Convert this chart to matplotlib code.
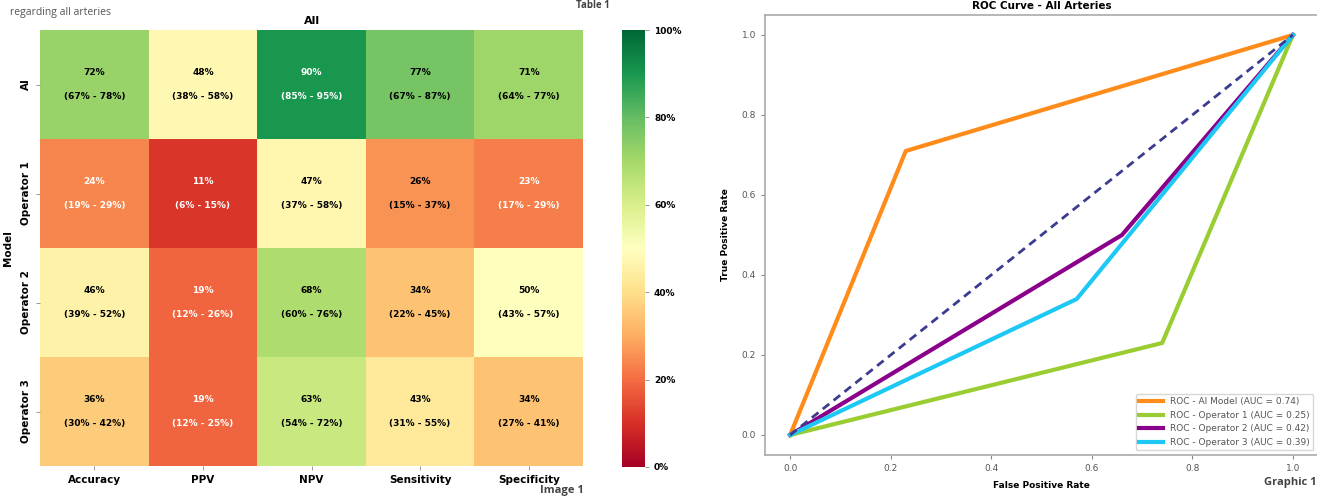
import numpy as np
import matplotlib
matplotlib.use("Agg")
import matplotlib.pyplot as plt

# heatmap data (percent)
models = ['AI', 'Operator 1', 'Operator 2', 'Operator 3']
metrics = ['Accuracy', 'PPV', 'NPV', 'Sensitivity', 'Specificity']
point = [[72, 48, 90, 77, 71],
         [24, 11, 47, 26, 23],
         [46, 19, 68, 34, 50],
         [36, 19, 63, 43, 34]]
ci_low = [[67, 38, 85, 67, 64],
          [19, 6, 37, 15, 17],
          [39, 12, 60, 22, 43],
          [30, 12, 54, 31, 27]]
ci_high = [[78, 58, 95, 87, 77],
           [29, 15, 58, 37, 29],
           [52, 26, 76, 45, 57],
           [42, 25, 72, 55, 41]]

# ROC data
roc_labels = ['ROC - AI Model (AUC = 0.74)', 'ROC - Operator 1 (AUC = 0.25)',
              'ROC - Operator 2 (AUC = 0.42)', 'ROC - Operator 3 (AUC = 0.39)']
roc_fpr = [[0, 0.23, 1], [0, 0.74, 1], [0, 0.66, 1], [0, 0.57, 1]]
roc_tpr = [[0, 0.71, 1], [0, 0.23, 1], [0, 0.50, 1], [0, 0.34, 1]]
roc_colors = ['#ff8c1a', '#9acd32', '#8b008b', '#1ec8f5']

W, H = 1317, 497
fig = plt.figure(figsize=(W / 100, H / 100), dpi=100)

def box(x0, y0, x1, y1):
    return [x0 / W, 1 - y1 / H, (x1 - x0) / W, (y1 - y0) / H]

# ---- heatmap ----
ax = fig.add_axes(box(40, 30, 583, 466))
cax = fig.add_axes(box(622, 30, 645, 467))
data = np.array(point) / 100.0
im = ax.imshow(data, cmap='RdYlGn', vmin=0, vmax=1, aspect='auto',
               interpolation='nearest')
for i in range(len(models)):
    for j in range(len(metrics)):
        v = point[i][j]
        c = 'white' if (v < 25 or v > 85) else 'black'
        ax.text(j, i - 0.11, f"{v}%", ha='center', va='center',
                fontsize=6.5, fontweight='bold', color=c)
        ax.text(j, i + 0.11, f"({ci_low[i][j]}% - {ci_high[i][j]}%)",
                ha='center', va='center', fontsize=6.5, fontweight='bold', color=c)
ax.set_xticks(range(len(metrics)))
ax.set_xticklabels(metrics, fontsize=7.5, fontweight='bold')
ax.set_yticks(range(len(models)))
ax.set_yticklabels(models, fontsize=7.5, fontweight='bold', rotation=90, va='center')
for s in ax.spines.values():
    s.set_visible(False)
ax.tick_params(length=3, color='#888888', width=0.6)
ax.set_title('All', fontsize=8, fontweight='bold', pad=4)
ax.set_ylabel('Model', fontsize=7.5, fontweight='bold', labelpad=6)

cb = fig.colorbar(im, cax=cax)
cb.set_ticks([0, 0.2, 0.4, 0.6, 0.8, 1.0])
cb.set_ticklabels(['0%', '20%', '40%', '60%', '80%', '100%'])
cb.ax.tick_params(labelsize=6.5, length=3, color='#888888', width=0.6)
for t in cb.ax.get_yticklabels():
    t.set_fontweight('bold')
cb.outline.set_visible(False)

# ---- ROC ----
ax2 = fig.add_axes(box(765, 15, 1318, 455))
for fx, ty, lab, col in zip(roc_fpr, roc_tpr, roc_labels, roc_colors):
    ax2.plot(fx, ty, color=col, lw=3, label=lab)
ax2.plot([0, 1], [0, 1], color='#3b3b8f', lw=2, linestyle=(0, (3, 2)))
ax2.set_xticks([0, 0.2, 0.4, 0.6, 0.8, 1.0])
ax2.set_yticks([0, 0.2, 0.4, 0.6, 0.8, 1.0])
ax2.tick_params(labelsize=6.5, labelcolor='#555555', color='#888888', length=3)
for s in ax2.spines.values():
    s.set_color('#aaaaaa')
    s.set_linewidth(1.2)
ax2.set_xlabel('False Positive Rate', fontsize=6.5, fontweight='bold', labelpad=6)
ax2.set_ylabel('True Positive Rate', fontsize=6.5, fontweight='bold', labelpad=8)
ax2.set_title('ROC Curve - All Arteries', fontsize=7.5, fontweight='bold', pad=4)
leg = ax2.legend(loc='lower right', fontsize=6.5, frameon=True, handlelength=2.6)
for t in leg.get_texts():
    t.set_color('#555555')

# surrounding captions
fig.text(10 / W, 1 - 12 / H, 'regarding all arteries', fontsize=7.5, color='#555555',
         family='Open Sans', va='center')
fig.text(593 / W, 1 - 6 / H, 'Table 1', fontsize=7, color='#444444', fontweight='bold',
         family='Open Sans', va='center', ha='center')
fig.text(562 / W, 1 - 490 / H, 'Image 1', fontsize=8, color='#444444', fontweight='bold',
         family='Open Sans', va='center', ha='center')
fig.text(1290 / W, 1 - 483 / H, 'Graphic 1', fontsize=8, color='#444444', fontweight='bold',
         family='Open Sans', va='center', ha='center')

fig.savefig('out.png', dpi=100)
